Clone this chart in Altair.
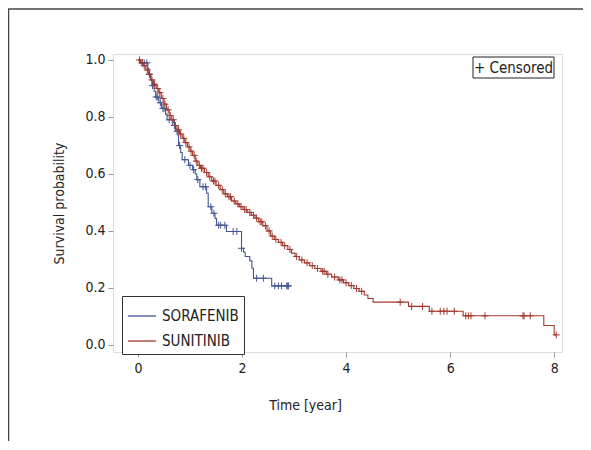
import bisect
import altair as alt
import pandas as pd

# ---------------- data ----------------
drugs = ["SORAFENIB", "SUNITINIB"]
colors = ["#445694", "#A23A2E"]

soraf_t = [0.00, 0.04, 0.19, 0.21, 0.24, 0.27, 0.31, 0.34, 0.40, 0.45, 0.53, 0.56,
           0.66, 0.72, 0.77, 0.78, 0.82, 0.85, 0.97, 1.05, 1.10, 1.13, 1.19, 1.32,
           1.35, 1.42, 1.48, 1.51, 1.70, 1.99, 2.03, 2.06, 2.15, 2.19, 2.22, 2.57, 2.89]
soraf_s = [1.000, 0.990, 0.970, 0.950, 0.930, 0.910, 0.890, 0.870, 0.850, 0.830, 0.810, 0.790,
           0.770, 0.750, 0.735, 0.700, 0.675, 0.650, 0.630, 0.615, 0.600, 0.580, 0.555, 0.532,
           0.485, 0.462, 0.444, 0.420, 0.398, 0.339, 0.325, 0.310, 0.295, 0.269, 0.234, 0.207, 0.207]
soraf_cens = [0.08, 0.12, 0.17, 0.22, 0.28, 0.35, 0.38, 0.43, 0.48, 0.50, 0.60, 0.70, 0.75,
              0.80, 0.90, 1.00, 1.07, 1.15, 1.25, 1.30, 1.40, 1.46, 1.55, 1.59, 1.67,
              1.83, 1.90, 1.99, 2.28, 2.41, 2.63, 2.70, 2.76, 2.86, 2.88, 2.89]

sunit_t = [0.00, 0.05, 0.10, 0.15, 0.20, 0.25, 0.30, 0.35, 0.40, 0.45, 0.50, 0.55,
           0.60, 0.65, 0.70, 0.75, 0.80, 0.85, 0.90, 0.95, 1.00, 1.05, 1.10, 1.15,
           1.20, 1.28, 1.35, 1.42, 1.50, 1.58, 1.65, 1.72, 1.80, 1.88, 1.95, 2.02,
           2.10, 2.18, 2.25, 2.32, 2.40, 2.48, 2.55, 2.62, 2.70, 2.78, 2.88, 2.95,
           3.02, 3.10, 3.20, 3.30, 3.40, 3.52, 3.62, 3.72, 3.85, 3.95, 4.05, 4.15,
           4.25, 4.35, 4.42, 4.52, 5.20, 5.60, 6.25, 7.80, 8.00, 8.04]
sunit_s = [1.000, 0.990, 0.980, 0.965, 0.950, 0.930, 0.915, 0.900, 0.885, 0.865, 0.845, 0.825,
           0.805, 0.790, 0.770, 0.755, 0.740, 0.725, 0.710, 0.695, 0.680, 0.665, 0.645, 0.630,
           0.620, 0.605, 0.590, 0.575, 0.560, 0.545, 0.530, 0.520, 0.505, 0.495, 0.485, 0.475,
           0.465, 0.455, 0.445, 0.432, 0.418, 0.400, 0.382, 0.370, 0.360, 0.348, 0.335, 0.322,
           0.310, 0.298, 0.288, 0.278, 0.268, 0.258, 0.248, 0.238, 0.228, 0.218, 0.208, 0.198,
           0.188, 0.175, 0.163, 0.150, 0.135, 0.118, 0.102, 0.068, 0.035, 0.035]
sunit_cens = [0.03, 0.08, 0.12, 0.18, 0.22, 0.27, 0.32, 0.38, 0.42, 0.48, 0.52, 0.58, 0.62,
              0.68, 0.72, 0.78, 0.82, 0.88, 0.92, 0.98, 1.02, 1.08, 1.12, 1.18, 1.22, 1.25,
              1.32, 1.38, 1.45, 1.48, 1.55, 1.62, 1.68, 1.75, 1.78, 1.85, 1.92, 1.98, 2.05,
              2.08, 2.15, 2.22, 2.28, 2.35, 2.38, 2.45, 2.52, 2.58, 2.65, 2.75, 2.82, 2.92,
              3.05, 3.15, 3.25, 3.35, 3.45, 3.55, 3.58, 3.65, 3.78, 3.88, 3.92, 4.00, 4.10,
              4.20, 4.30, 5.04, 5.26, 5.47, 5.65, 5.81, 5.88, 5.94, 6.08, 6.30, 6.35, 6.40,
              6.67, 7.40, 7.42, 7.54, 8.04]

x_ticks = [0, 2, 4, 6, 8]
y_ticks = [0.0, 0.2, 0.4, 0.6, 0.8, 1.0]


def surv_at(ts, ss, t):
    i = bisect.bisect_right(ts, t) - 1
    return ss[max(i, 0)]


rows, crows = [], []
for name, ts, ss, cs in [(drugs[0], soraf_t, soraf_s, soraf_cens),
                         (drugs[1], sunit_t, sunit_s, sunit_cens)]:
    for t, s in zip(ts, ss):
        rows.append({"time": t, "surv": s, "drug": name})
    for t in cs:
        crows.append({"time": t, "surv": surv_at(ts, ss, t), "drug": name})
lines_df = pd.DataFrame(rows)
cens_df = pd.DataFrame(crows)

FONT = "DejaVu Sans Condensed, sans-serif"
W, H = 449, 298

xscale = alt.Scale(domain=[-0.48, 8.15], nice=False, zero=False)
yscale = alt.Scale(domain=[-0.025, 1.021], nice=False, zero=False)
cscale = alt.Scale(domain=drugs, range=colors)

xax = alt.Axis(values=x_ticks, format="d", title="Time [year]", grid=False, domain=False,
               tickColor="#9a9a9a", tickSize=5, labelFontSize=14, titleFontSize=14,
               labelPadding=4, titleFontWeight="normal", titleX=192, titleY=53,
               titleBaseline="middle")
yax = alt.Axis(values=y_ticks, format=".1f", title="Survival probability", grid=False,
               domain=False, tickColor="#9a9a9a", tickSize=5, labelFontSize=14,
               titleFontSize=14, labelPadding=3, titleFontWeight="normal", titleX=-54,
               titleBaseline="middle")

legend = alt.Legend(title=None, orient="none", legendX=9, legendY=242, direction="vertical",
                    padding=5, symbolType="stroke", symbolSize=800, symbolStrokeWidth=1.3,
                    labelFontSize=15, labelOffset=5, rowPadding=2, fillColor="white")

lines = alt.Chart(lines_df).mark_line(interpolate="step-after", strokeWidth=1.1).encode(
    x=alt.X("time:Q", scale=xscale, axis=xax),
    y=alt.Y("surv:Q", scale=yscale, axis=yax),
    color=alt.Color("drug:N", scale=cscale, legend=legend),
)

marks = alt.Chart(cens_df).mark_point(shape="M-1,0H1M0,-1V1", filled=False, size=49,
                                      strokeWidth=1, opacity=1).encode(
    x="time:Q", y="surv:Q",
    color=alt.Color("drug:N", scale=cscale, legend=None),
)

lab = pd.DataFrame({"label": ["+ Censored"]})
cbox = alt.Chart(lab).mark_rect(fill="white", stroke="#222", strokeWidth=1).encode(
    x=alt.value(360), x2=alt.value(441), y=alt.value(3), y2=alt.value(24))
ctext = alt.Chart(lab).mark_text(fontSize=15, font=FONT, color="#222", baseline="middle",
                                 align="center").encode(
    x=alt.value(400.5), y=alt.value(14), text="label:N")

border_v = alt.Chart(lab).mark_rule(color="#444", strokeWidth=1.5).encode(
    x=alt.value(-104.5), y=alt.value(-45), y2=alt.value(H + 95))
border_h = alt.Chart(lab).mark_rule(color="#444", strokeWidth=1.5).encode(
    x=alt.value(-105), x2=alt.value(W + 30), y=alt.value(-45))

chart = alt.layer(lines, marks, cbox, ctext, border_v, border_h).properties(
    width=W, height=H,
    autosize=alt.AutoSizeParams(type="none"),
    padding={"left": 105, "top": 46, "right": 21, "bottom": 89},
).configure_view(stroke="#ababab", strokeWidth=1).configure(
    font=FONT
).configure_axis(labelColor="#222", titleColor="#222", labelFont=FONT, titleFont=FONT
).configure_legend(labelFont=FONT, labelColor="#222", strokeColor="#333", strokeWidth=1,
                   cornerRadius=0)

chart.save("out.html", embed_options={"renderer": "svg", "actions": False})
